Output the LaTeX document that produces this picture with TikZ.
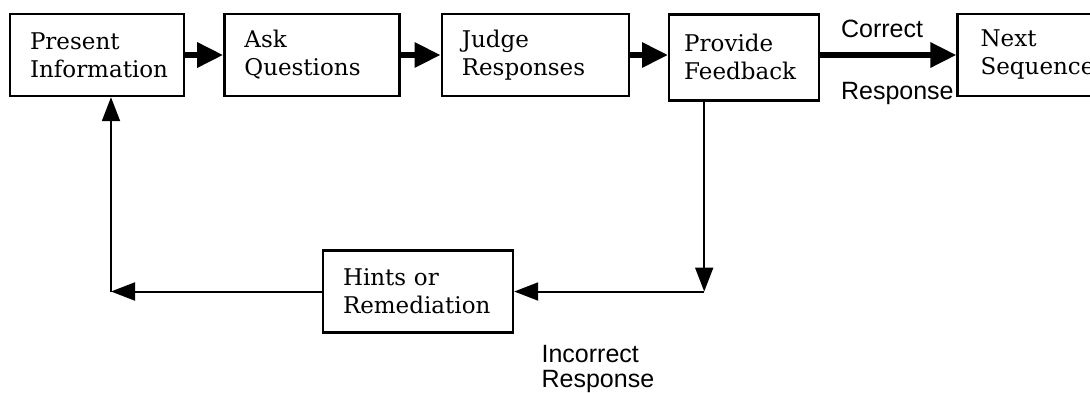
\documentclass[tikz,border=0pt]{standalone}
\usepackage{fontspec}
\setmainfont{DejaVu Serif}
\newfontfamily\lblfont{Liberation Sans}
\usetikzlibrary{arrows.meta}
\usetikzlibrary{positioning}
\tikzset{>={Triangle[length=12pt,width=9pt]}, node distance=19pt, font=\fontsize{11.5}{14}\selectfont}
\tikzstyle{block} = [draw, line width=1.2pt, rectangle, minimum height=41pt, inner xsep=10pt, align=left]
\tikzstyle{lbl} = [inner sep=0pt, font=\lblfont\fontsize{12.5}{12.5}\selectfont, align=left]
\tikzstyle{thickline} = [->, line width=3pt, >={Triangle[length=13pt,width=12pt]}]
\tikzstyle{thinline} = [->, line width=1pt]

\begin{document}
\begin{tikzpicture}
	\useasboundingbox (0,0) rectangle (545pt,-196pt);

	\node [block, text width=67pt] (pres) at (48.5pt,-27.5pt) {Present\\Information};
	\node [block, text width=67.5pt, right=of pres] (ask) {Ask\\Questions};
	\node [block, text width=73.5pt, right=20pt of ask] (judge) {Judge\\Responses};
	\node [block, text width=60pt, inner xsep=7.5pt, minimum height=43pt, right=of judge, yshift=-1.2pt] (feed) {Provide\\Feedback};
	\node [block, text width=70pt, inner xsep=11.5pt, right=68pt of feed, yshift=1.2pt] (next) {Next\\Sequence};
	\node [block, text width=75pt] (hints) at (209pt,-145.75pt) {Hints or\\Remediation};

	\coordinate (drop) at ([xshift=-20pt]feed.south |- hints.east);
	\coordinate (turn) at ([xshift=7pt]pres.south |- hints.west);

	\draw [thickline] (pres) -- (ask);
	\draw [thickline] (ask) -- (judge);
	\draw [thickline] (judge.east) -- (judge.east -| feed.west);
	\draw [thickline] (feed.east |- next) -- node[lbl, pos=0.13, anchor=south west, yshift=7pt] {Correct} node[lbl, pos=0.13, anchor=north west, yshift=-12pt] {Response} (next);

	\draw [thinline] ([xshift=-20pt]feed.south) -- (drop);
	\draw [thinline] (drop) -- (hints);
	\draw [thinline] (hints) -- (turn);
	\draw [thinline] (turn) -- ([xshift=7pt]pres.south);

	\node [lbl, anchor=north west] (wrong) at ([xshift=13.5pt,yshift=-5.5pt]hints.south east) {Incorrect\\Response};
\end{tikzpicture}
\end{document}
